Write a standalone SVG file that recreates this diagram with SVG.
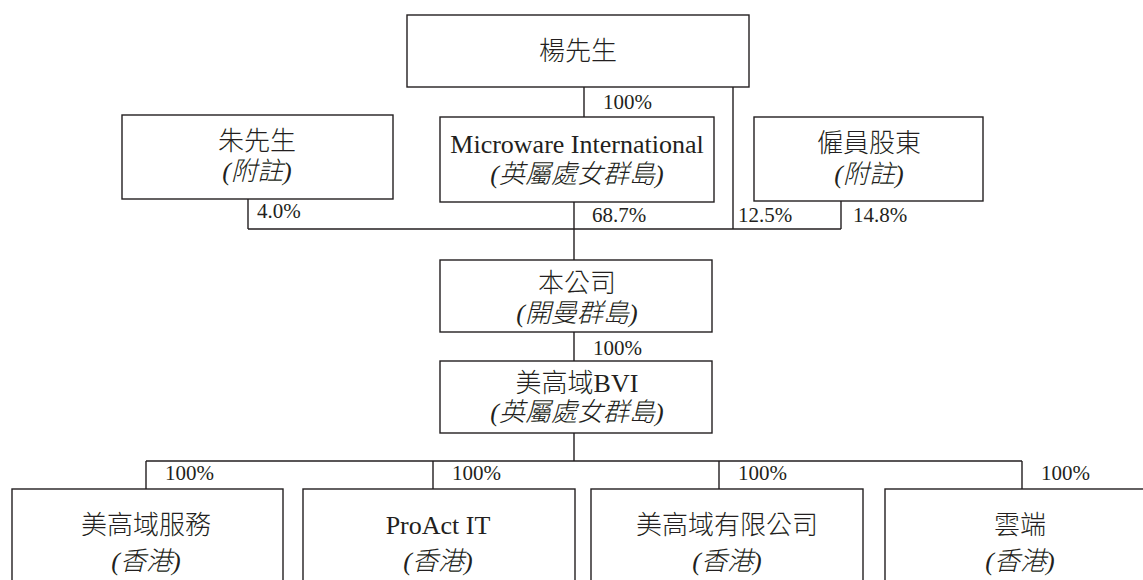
<svg xmlns="http://www.w3.org/2000/svg" width="1143" height="580" viewBox="0 0 1143 580">
<style>
.box{fill:#fff;stroke:#231f20;stroke-width:1.4}
.ln{fill:none;stroke:#231f20;stroke-width:1.4}
.t{font-family:"Liberation Serif","Noto Sans CJK TC",serif;font-size:26px;fill:#231f20;text-anchor:middle;font-weight:300}
.i{font-style:italic}
.p{font-family:"Liberation Serif",serif;font-size:21px;fill:#231f20}
</style>
<rect width="1143" height="580" fill="#fff"/>
<g id="connectors">
<path class="ln" d="M584,87V117M733,87V229M574,202V260M248,199V229M841,201V229M248,229H841M574,332V361M574,433V461M146,461H1022M146,461V489M433,461V489M719,461V489M1022,461V489"/>
<text class="p" x="603" y="109">100%</text>
<text class="p" x="257" y="218">4.0%</text>
<text class="p" x="592" y="222">68.7%</text>
<text class="p" x="738" y="222">12.5%</text>
<text class="p" x="853" y="222">14.8%</text>
<text class="p" x="593" y="355">100%</text>
<text class="p" x="165" y="480">100%</text>
<text class="p" x="452" y="480">100%</text>
<text class="p" x="738" y="480">100%</text>
<text class="p" x="1041" y="480">100%</text>
</g>
<g id="yang">
<rect class="box" x="407" y="15" width="342" height="72"/>
<text class="t" x="578" y="60">楊先生</text>
</g>
<g id="zhu">
<rect class="box" x="122" y="115" width="271" height="84"/>
<text class="t" x="257" y="150">朱先生</text>
<text class="t i" x="257" y="180">(附註)</text>
</g>
<g id="microware">
<rect class="box" x="440" y="117" width="274" height="85"/>
<text class="t" x="577" y="153">Microware International</text>
<text class="t i" x="577" y="183">(英屬處女群島)</text>
</g>
<g id="employees">
<rect class="box" x="754" y="117" width="229" height="84"/>
<text class="t" x="869" y="152">僱員股東</text>
<text class="t i" x="869" y="183">(附註)</text>
</g>
<g id="company">
<rect class="box" x="440" y="260" width="272" height="72"/>
<text class="t" x="577" y="292">本公司</text>
<text class="t i" x="577" y="322">(開曼群島)</text>
</g>
<g id="bvi">
<rect class="box" x="440" y="361" width="272" height="72"/>
<text class="t" x="577" y="392">美高域BVI</text>
<text class="t i" x="577" y="421">(英屬處女群島)</text>
</g>
<g id="services">
<rect class="box" x="12" y="489" width="271" height="110"/>
<text class="t" x="146" y="534">美高域服務</text>
<text class="t i" x="146" y="570">(香港)</text>
</g>
<g id="proact">
<rect class="box" x="303" y="489" width="272" height="110"/>
<text class="t" x="438" y="534">ProAct IT</text>
<text class="t i" x="438" y="570">(香港)</text>
</g>
<g id="limited">
<rect class="box" x="591" y="489" width="272" height="110"/>
<text class="t" x="727" y="534">美高域有限公司</text>
<text class="t i" x="727" y="570">(香港)</text>
</g>
<g id="cloud">
<rect class="box" x="885" y="489" width="272" height="110"/>
<text class="t" x="1020" y="534">雲端</text>
<text class="t i" x="1020" y="570">(香港)</text>
</g>
</svg>
